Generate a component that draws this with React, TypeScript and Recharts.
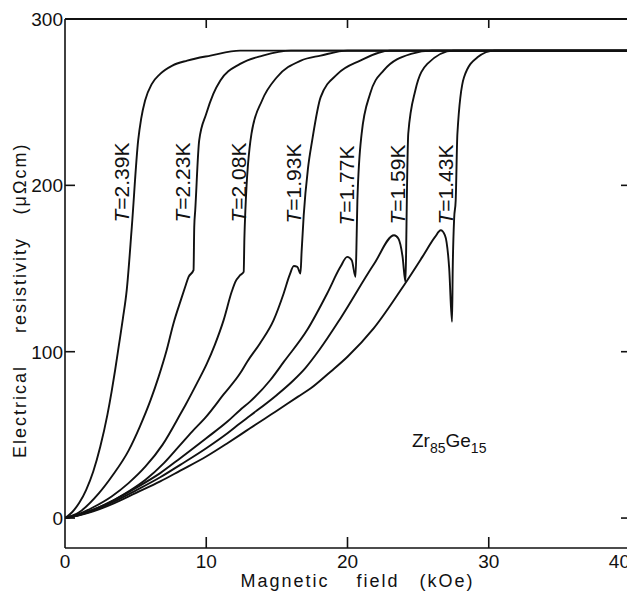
import { LineChart, Line, XAxis, YAxis, ReferenceDot } from 'recharts';

// resistivity (µΩcm) vs field (kOe), one list of [H, rho] per temperature
const rho239: [number, number][] = [
  [0, 0], [0.5, 3.5], [1, 9], [1.5, 17], [2, 28], [2.5, 43], [3, 62], [3.3, 76], [3.55, 89],
  [3.8, 103], [4.1, 120], [4.37, 137], [4.73, 175], [5.18, 227], [5.39, 240], [5.67, 251],
  [6.15, 261], [6.74, 267], [7.6, 272], [8.65, 275], [10.3, 278], [12.4, 281], [40, 281],
];
const rho223: [number, number][] = [
  [0, 0], [1, 3.5], [2.39, 14.8], [3.4, 26], [4.51, 40.7], [5.3, 55], [6.05, 70.7], [6.62, 84.7],
  [7.2, 101], [7.68, 117], [8.2, 131], [8.51, 139], [8.75, 145], [9.1, 149], [9.15, 175],
  [9.22, 185], [9.5, 227], [10, 243], [10.5, 255], [11, 263], [12.4, 273], [14, 278], [16, 281],
  [40, 281],
];
const rho208: [number, number][] = [
  [0, 0], [1, 2.5], [2, 6.5], [3.3, 13], [4.5, 21], [5.7, 31], [6.9, 44], [8.2, 63], [8.53, 68],
  [9.4, 82], [10.05, 93], [10.6, 104], [11.23, 119], [11.8, 136], [12.06, 142],
  [12.4, 146], [12.65, 148], [12.7, 168], [12.77, 185], [13.2, 231], [13.95, 251], [15, 265],
  [16.7, 275], [18.1, 278], [20, 281], [40, 281],
];
const rho193: [number, number][] = [
  [0, 0], [1, 2], [2, 5], [3.5, 11], [4.6, 16.5], [5.7, 23], [7, 33], [8.16, 44], [9, 52],
  [10, 61], [11.2, 74], [12.4, 87], [12.9, 94], [13.8, 105], [14.77, 119], [15.48, 135],
  [15.9, 146], [16.2, 151.5], [16.45, 151], [16.67, 147], [16.75, 160], [16.9, 182], [17.2, 210],
  [17.5, 227], [18.1, 253], [19.3, 267], [20.9, 275], [23, 281], [40, 281],
];
const rho177: [number, number][] = [
  [0, 0], [1, 2], [2, 5], [3.5, 11], [5, 18], [6.74, 27], [8.16, 36], [10, 48], [11.5, 58],
  [12.4, 65], [13.1, 70], [14.54, 83], [15.5, 94], [17.14, 113], [18.56, 135], [19.5, 151],
  [19.98, 157], [20.3, 155], [20.57, 145], [20.65, 170], [20.7, 191], [21, 231], [21.6, 255],
  [22.55, 269], [24.5, 279], [26, 281], [40, 281],
];
const rho159: [number, number][] = [
  [0, 0], [1, 1.8], [2, 4.5], [3.5, 10], [5, 16.5], [6.74, 24.5], [8.16, 32], [10, 42],
  [11.5, 51], [12.4, 57], [13.1, 61.5], [15, 74], [16.2, 83], [17, 90], [18, 101], [19.5, 120],
  [21.9, 153], [23.3, 170], [23.6, 168], [23.9, 157], [24.1, 142], [24.15, 160], [24.2, 191],
  [24.3, 231], [24.8, 257], [25.65, 273], [27.5, 281], [40, 281],
];
const rho143: [number, number][] = [
  [0, 0], [1, 1.6], [2, 4], [3.5, 9], [5, 15], [6.74, 22], [8.16, 28.5], [10, 37], [11.5, 45],
  [12.4, 50], [13.1, 54], [15, 64.5], [16.5, 73], [17.4, 78], [18.8, 88], [20, 97], [21.85, 114],
  [24, 140], [25.3, 157], [26.2, 169], [26.6, 173], [26.9, 170], [27.2, 150], [27.4, 118],
  [27.45, 150], [27.55, 180], [27.66, 191], [27.78, 231], [28.25, 265], [29.2, 277],
  [30.4, 281], [40, 281],
];

const temps = ['2.39', '2.23', '2.08', '1.93', '1.77', '1.59', '1.43'];
const curves = [rho239, rho223, rho208, rho193, rho177, rho159, rho143];

const X_MAX = 40;
const xTicks = [0, 10, 20, 30, 40];
const yTicks = [0, 100, 200, 300];
const innerXTicks = [10, 20, 30];
const innerYTicks = [0, 100, 200];
const Y_MIN = -18;
const Y_MAX = 300;

// where the temperature labels sit, in data units (centre of text)
const labelAnchors: [number, number][] = [
  [3.97, 201.7], [8.3, 201.7], [12.27, 201.7], [16.17, 201.1], [19.93, 199.9], [23.55, 200.5], [26.95, 200.5],
];

const INK = '#111';
const FONT = '"Liberation Sans", Arial, Helvetica, sans-serif';

// chart box
const W = 627;
const H = 584;
const M = { top: 11, right: 4, left: 0, bottom: 0 };
const Y_AXIS_W = 57;
const X_AXIS_H = 44;
const PLOT_L = M.left + Y_AXIS_W;
const PLOT_R = W - M.right - 1;
const PLOT_T = M.top;

function BottomTick({ x, y, payload }: any) {
  const v = payload.value;
  const last = v === X_MAX;
  return (
    <g>
      {v > 0 && v < X_MAX && <line x1={x} y1={y} x2={x} y2={y - 11} stroke={INK} strokeWidth={1.6} />}
      <text x={last ? x + 3 : x} y={y + 20} textAnchor={last ? 'end' : 'middle'} fontSize={19} fill={INK}
        fontFamily={FONT}>{v}</text>
    </g>
  );
}

function LeftTick({ x, y, payload }: any) {
  const v = payload.value;
  return (
    <g>
      {v < Y_MAX && <line x1={x} y1={y} x2={x + 10} y2={y} stroke={INK} strokeWidth={1.6} />}
      <text x={x - 2} y={y} dy="0.36em" textAnchor="end" fontSize={19} fill={INK} fontFamily={FONT}>{v}</text>
    </g>
  );
}

function RightTick({ x, y }: any) {
  return <line x1={x} y1={y} x2={x - 9} y2={y} stroke={INK} strokeWidth={1.6} />;
}

function CurveLabel({ viewBox, temp }: any) {
  const cx = viewBox.x + viewBox.width / 2;
  const cy = viewBox.y + viewBox.height / 2;
  return (
    <text x={cx} y={cy} dy="0.36em" transform={`rotate(-90 ${cx} ${cy})`} textAnchor="middle"
      fontSize={21} fill={INK} fontFamily={FONT}>
      <tspan fontStyle="italic">T</tspan>={temp}K
    </text>
  );
}

function AlloyLabel({ viewBox }: any) {
  const cx = viewBox.x + viewBox.width / 2;
  const cy = viewBox.y + viewBox.height / 2;
  return (
    <text x={cx} y={cy} textAnchor="middle" fontSize={19} fill={INK} fontFamily={FONT}>
      Zr<tspan fontSize={14} dy={6}>85</tspan><tspan dy={-6}>Ge</tspan><tspan fontSize={14} dy={6}>15</tspan>
    </text>
  );
}

export default function App() {
  const series = curves.map((c) => c.map(([x, y]) => ({ x, y })));
  const topTickX = (t: number) => PLOT_L + (t / X_MAX) * (PLOT_R - PLOT_L);
  return (
    <div style={{ position: 'relative', width: W, height: H, fontFamily: FONT }}>
      <LineChart width={W} height={H} margin={M}>
        <XAxis type="number" dataKey="x" domain={[0, X_MAX]} ticks={xTicks} height={X_AXIS_H} tickSize={0}
          tickMargin={0} tickLine={false} tick={<BottomTick />} axisLine={{ stroke: INK, strokeWidth: 1.6 }}
          allowDataOverflow />
        <YAxis type="number" domain={[Y_MIN, Y_MAX]} ticks={yTicks} width={Y_AXIS_W} tickSize={0} tickMargin={0}
          tickLine={false} tick={<LeftTick />} axisLine={{ stroke: INK, strokeWidth: 1.6 }} allowDataOverflow />
        <YAxis yAxisId="right" orientation="right" type="number" domain={[Y_MIN, Y_MAX]} ticks={innerYTicks}
          width={1} tickSize={0} tickMargin={0} tickLine={false} tick={<RightTick />}
          axisLine={{ stroke: INK, strokeWidth: 1.6 }} allowDataOverflow />
        {series.map((d, i) => (
          <Line
            key={temps[i]}
            data={d}
            dataKey="y"
            type="monotone"
            stroke={INK}
            strokeWidth={1.9}
            dot={false}
            activeDot={false}
            isAnimationActive={false}
            {...(i === series.length - 1 ? { yAxisId: 'right' } : {})}
          />
        ))}
        {temps.map((t, i) => (
          <ReferenceDot key={'l' + t} x={labelAnchors[i][0]} y={labelAnchors[i][1]} r={0}
            fill="none" stroke="none" label={<CurveLabel temp={t} />} />
        ))}
        <ReferenceDot x={27.2} y={42.5} r={0} fill="none" stroke="none" label={<AlloyLabel />} />
      </LineChart>
      <svg width={W} height={H} style={{ position: 'absolute', left: 0, top: 0, pointerEvents: 'none' }}>
        {/* top frame edge with its inward ticks */}
        <line x1={PLOT_L} y1={PLOT_T} x2={PLOT_R + 1} y2={PLOT_T} stroke={INK} strokeWidth={1.8} />
        {innerXTicks.map((t) => (
          <line key={t} x1={topTickX(t)} y1={PLOT_T} x2={topTickX(t)} y2={PLOT_T + 9} stroke={INK} strokeWidth={1.6} />
        ))}
        <g fontSize={18} fill={INK} fontFamily={FONT} letterSpacing={2} textAnchor="middle">
          <text x={277} y={579}>Magnetic</text>
          <text x={370} y={579}>field</text>
          <text x={439} y={579}>(kOe)</text>
          <text x={18} y={403.5} transform="rotate(-90 18 403.5)">Electrical</text>
          <text x={18} y={277} transform="rotate(-90 18 277)">resistivity</text>
          <text x={18} y={170.5} transform="rotate(-90 18 170.5)">(μΩcm)</text>
        </g>
      </svg>
    </div>
  );
}
